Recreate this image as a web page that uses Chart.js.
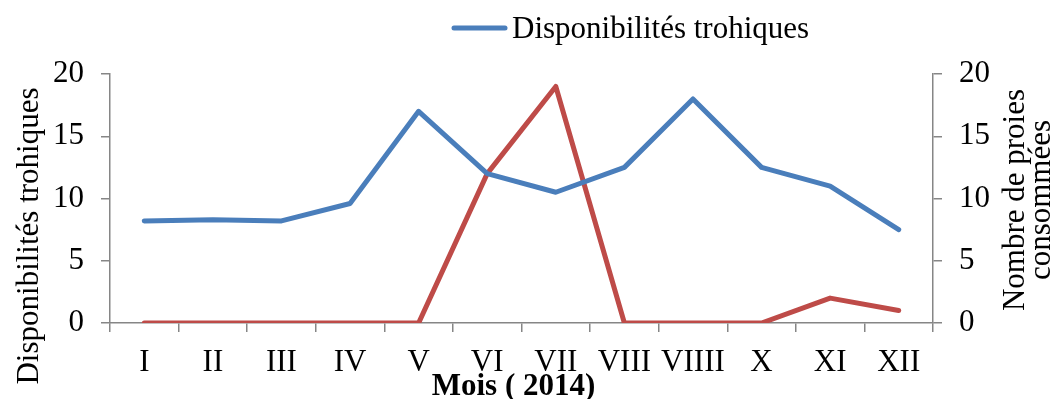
<!DOCTYPE html>
<html>
<head>
<meta charset="utf-8">
<script src="https://cdn.jsdelivr.net/npm/chart.js@4"></script>
<style>
  html, body { margin: 0; padding: 0; background: #fff; }
  #wrap { position: relative; width: 1063px; height: 399px; }
</style>
</head>
<body>
<div id="wrap"><canvas id="chart"></canvas></div>
<script>
// ---------- DATA ----------
const months = ["I", "II", "III", "IV", "V", "VI", "VII", "VIII", "VIIII", "X", "XI", "XII"];
const dispo = [8.2, 8.3, 8.2, 9.6, 17, 12, 10.5, 12.5, 18, 12.5, 11, 7.5];
const proies = [0, 0, 0, 0, 0, 12, 19, 0, 0, 0, 2, 1];
const legendText = "Disponibilités trohiques";
const leftTitle = "Disponibilités trohiques";
const rightTitle = ["Nombre de proies", "consommées"];
const xTitle = "Mois ( 2014)";

const BLUE = "#4a7ebb", RED = "#be4b48", AXIS = "#868686";
const SERIF = '"Liberation Serif", "Times New Roman", serif';

// legend + axis titles drawn on the canvas
const titlesPlugin = {
  id: "titles",
  afterDraw(chart) {
    const { ctx, chartArea: a } = chart;
    ctx.save();
    ctx.fillStyle = "#000";

    // legend (blue series only)
    ctx.strokeStyle = BLUE; ctx.lineWidth = 5; ctx.lineCap = "round";
    ctx.beginPath(); ctx.moveTo(454, 28); ctx.lineTo(505, 28); ctx.stroke();
    ctx.font = "31px " + SERIF;
    ctx.textAlign = "left"; ctx.textBaseline = "alphabetic";
    ctx.fillText(legendText, 512, 38);

    // x title
    ctx.font = "bold 31px " + SERIF;
    ctx.textAlign = "center";
    ctx.fillText(xTitle, (a.left + a.right) / 2 - 8, 395);

    // left title
    ctx.font = "31px " + SERIF;
    ctx.save();
    ctx.translate(38, 236); ctx.rotate(-Math.PI / 2);
    ctx.fillText(leftTitle, 0, 0);
    ctx.restore();

    // right title, two lines
    ctx.save();
    ctx.translate(1024, 200); ctx.rotate(-Math.PI / 2);
    ctx.fillText(rightTitle[0], 0, 0);
    ctx.fillText(rightTitle[1], 0, 26);
    ctx.restore();

    ctx.restore();
  }
};

const tickFont = { family: SERIF, size: 31 };
const yAxis = (pos, width) => ({
  position: pos, min: 0, max: 20,
  ticks: { stepSize: 5, color: "#000", font: tickFont, padding: 17 },
  grid: { drawOnChartArea: false, drawTicks: true, tickLength: 9, color: AXIS, lineWidth: 1.5 },
  border: { color: AXIS, width: 1.5 },
  afterFit: s => { s.width = width; }
});

new Chart(document.getElementById("chart").getContext("2d"), {
  type: "line",
  data: {
    labels: months,
    datasets: [
      { label: legendText, data: dispo, yAxisID: "y", borderColor: BLUE, backgroundColor: BLUE,
        borderWidth: 5, pointRadius: 0, tension: 0, borderCapStyle: "round", borderJoinStyle: "round" },
      { label: "Nombre de proies consommées", data: proies, yAxisID: "y1", borderColor: RED, backgroundColor: RED,
        borderWidth: 5, pointRadius: 0, tension: 0, borderCapStyle: "round", borderJoinStyle: "round" }
    ]
  },
  options: {
    responsive: true, maintainAspectRatio: false, animation: false,
    layout: { padding: { top: 74, left: 0, right: 0, bottom: 0 } },
    plugins: { legend: { display: false }, tooltip: { enabled: false } },
    scales: {
      x: {
        offset: true,
        ticks: { color: "#000", font: tickFont, padding: 12, maxRotation: 0, autoSkip: false },
        grid: { offset: true, drawOnChartArea: false, drawTicks: true, tickLength: 9, color: AXIS, lineWidth: 1.5 },
        border: { color: AXIS, width: 1.5 },
        afterFit: s => { s.height = 76; }
      },
      y: yAxis("left", 110),
      y1: yAxis("right", 130)
    }
  },
  plugins: [titlesPlugin]
});
</script>
</body>
</html>
